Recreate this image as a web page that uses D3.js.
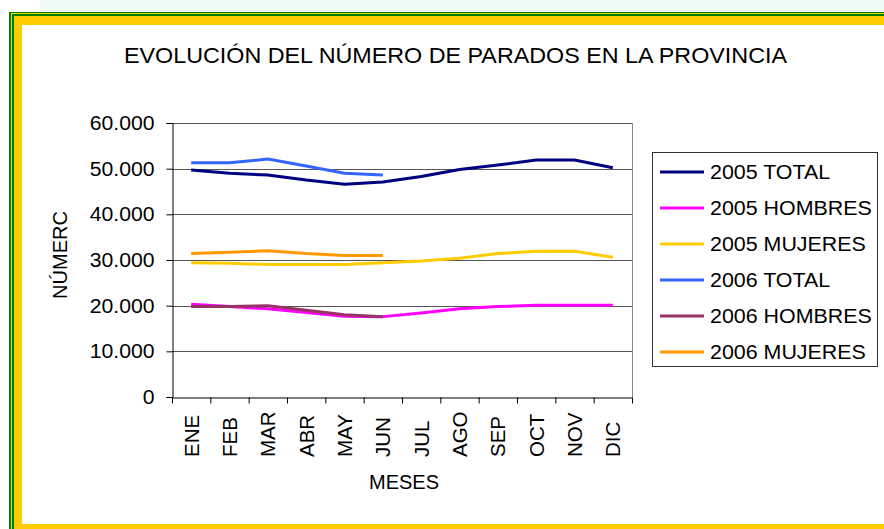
<!DOCTYPE html>
<html>
<head>
<meta charset="utf-8">
<script src="https://cdn.jsdelivr.net/npm/d3@7"></script>
<style>
  body { margin: 0; background: #fff; }
  svg text { font-family: "Liberation Sans", Arial, sans-serif; fill: #000; }
</style>
</head>
<body>
<div id="chart"></div>
<script>
// datos
const meses = ["ENE", "FEB", "MAR", "ABR", "MAY", "JUN", "JUL", "AGO", "SEP", "OCT", "NOV", "DIC"];
const total2005 = [49700, 49000, 48600, 47500, 46600, 47100, 48300, 49800, 50800, 51900, 51900, 50200];
const hombres2005 = [20300, 19800, 19300, 18500, 17700, 17600, 18400, 19300, 19800, 20100, 20100, 20100];
const mujeres2005 = [29400, 29300, 29000, 29000, 29000, 29400, 29800, 30400, 31400, 31900, 31900, 30600];
const total2006 = [51300, 51300, 52100, 50600, 49000, 48600];
const hombres2006 = [19800, 19800, 20000, 19000, 18000, 17600];
const mujeres2006 = [31400, 31700, 32000, 31400, 31000, 31000];
const yTicks = [0, 10000, 20000, 30000, 40000, 50000, 60000];

const series = [
  { name: "2005 TOTAL", values: total2005, color: "#000080" },
  { name: "2005 HOMBRES", values: hombres2005, color: "#ff00ff" },
  { name: "2005 MUJERES", values: mujeres2005, color: "#ffcc00" },
  { name: "2006 TOTAL", values: total2006, color: "#3366ff" },
  { name: "2006 HOMBRES", values: hombres2006, color: "#993366" },
  { name: "2006 MUJERES", values: mujeres2006, color: "#ff9900" }
];

const width = 884, height = 529;
const plot = { left: 172, right: 632, top: 123, bottom: 397 };

const svg = d3.select("#chart").append("svg")
  .attr("width", width)
  .attr("height", height);

// marco verde / amarillo
svg.append("rect").attr("x", 40).attr("y", 0).attr("width", width - 40).attr("height", 12).attr("fill", "#f0fdf7");
svg.append("rect").attr("x", 9).attr("y", 12).attr("width", width).attr("height", height).attr("fill", "#008000");
svg.append("rect").attr("x", 11).attr("y", 13).attr("width", width).attr("height", height).attr("fill", "#ffcc00");
svg.append("rect").attr("x", 12).attr("y", 14).attr("width", width).attr("height", height).attr("fill", "#008000");
svg.append("rect").attr("x", 14).attr("y", 16).attr("width", width).attr("height", height).attr("fill", "#ffcc00");
svg.append("rect").attr("x", 22).attr("y", 25).attr("width", width - 22).attr("height", 524 - 25).attr("fill", "#fff");

// estira el texto en horizontal como en la imagen original
function stretch(sel, k) {
  sel.each(function() {
    const len = this.getComputedTextLength();
    d3.select(this).attr("textLength", len * k).attr("lengthAdjust", "spacingAndGlyphs");
  });
}

svg.append("text")
  .attr("x", 124).attr("y", 63)
  .style("font-size", "21.5px")
  .text("EVOLUCIÓN DEL NÚMERO DE PARADOS EN LA PROVINCIA")
  .attr("textLength", 663).attr("lengthAdjust", "spacingAndGlyphs");

const x = d3.scaleBand().domain(meses).range([plot.left, plot.right]);
const xi = d3.scaleLinear().domain([0, meses.length]).range([plot.left, plot.right]);
const y = d3.scaleLinear().domain([0, 60000]).range([plot.bottom, plot.top]);

const fmt = d3.formatLocale({ decimal: ",", thousands: ".", grouping: [3], currency: ["", ""] }).format(",d");

// rejilla
svg.append("g").selectAll("line").data(yTicks.filter(d => d > 0)).join("line")
  .attr("x1", plot.left).attr("x2", plot.right)
  .attr("y1", d => Math.round(y(d)) + 0.5).attr("y2", d => Math.round(y(d)) + 0.5)
  .attr("stroke", "#555");
svg.append("line")
  .attr("x1", plot.right + 0.5).attr("x2", plot.right + 0.5)
  .attr("y1", plot.top).attr("y2", plot.bottom)
  .attr("stroke", "#888");

// eje y
const gy = svg.append("g")
  .attr("transform", `translate(${plot.left + 0.5},0)`)
  .call(d3.axisLeft(y).tickValues(yTicks).tickFormat(fmt).tickSize(6).tickPadding(12));
gy.select(".domain").attr("stroke", "#000");
gy.selectAll(".tick line").attr("stroke", "#000");
gy.selectAll("text").style("font-size", "20px").attr("font-family", null).call(stretch, 1.06);

// eje x
const gx = svg.append("g")
  .attr("transform", `translate(0,${plot.bottom + 0.5})`)
  .call(d3.axisBottom(xi).ticks(meses.length).tickFormat("").tickSize(6).tickSizeOuter(0));
gx.select(".domain").attr("stroke", "#000");
gx.selectAll(".tick line").attr("stroke", "#000");

svg.append("g").selectAll("text").data(meses).join("text")
  .attr("transform", d => `translate(${x(d) + x.bandwidth() / 2},457) rotate(-90)`)
  .attr("dy", "0.36em")
  .style("font-size", "20.5px")
  .text(d => d);

svg.append("text")
  .attr("x", 404).attr("y", 489)
  .attr("text-anchor", "middle")
  .style("font-size", "20px")
  .text("MESES");

svg.append("text")
  .attr("transform", "translate(67,255) rotate(-90)")
  .attr("text-anchor", "middle")
  .style("font-size", "20px")
  .text("NÚMERC");

// lineas
const line = d3.line()
  .x((d, i) => x(meses[i]) + x.bandwidth() / 2)
  .y(d => y(d));

svg.append("g").selectAll("path").data(series).join("path")
  .attr("d", d => line(d.values))
  .attr("fill", "none")
  .attr("stroke", d => d.color)
  .attr("stroke-width", 3)
  .attr("stroke-linejoin", "round");

// leyenda
const legend = svg.append("g");
legend.append("rect")
  .attr("x", 652.5).attr("y", 152.5).attr("width", 225).attr("height", 214)
  .attr("fill", "#fff").attr("stroke", "#333");
const items = legend.selectAll("g").data(series).join("g")
  .attr("transform", (d, i) => `translate(0,${172 + i * 36})`);
items.append("line")
  .attr("x1", 660).attr("x2", 704)
  .attr("stroke", d => d.color).attr("stroke-width", 3);
items.append("text")
  .attr("x", 710).attr("dy", "0.36em")
  .style("font-size", "20px")
  .text(d => d.name)
  .call(stretch, 1.07);
</script>
</body>
</html>
